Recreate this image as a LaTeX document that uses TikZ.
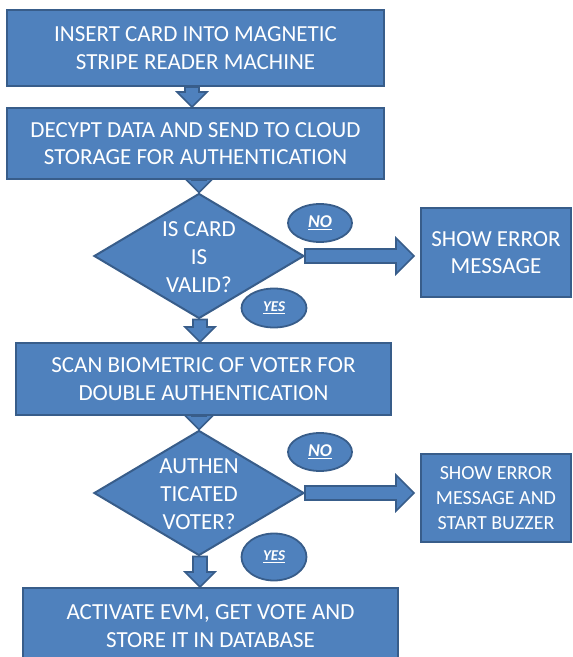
\documentclass[tikz,border=0pt]{standalone}
\usepackage{fontspec}
\setmainfont{Carlito}
\usetikzlibrary{shapes.geometric,calc,backgrounds}

\definecolor{boxblue}{HTML}{4F81BD}
\definecolor{boxedge}{HTML}{385D8A}

\tikzset{
  flowbox/.style={draw=boxedge, fill=boxblue, line width=2pt, text=white,
    align=center, inner sep=0pt, font=\fontsize{23}{27.5}\selectfont},
  decision/.style={diamond, draw=boxedge, fill=boxblue, line width=2pt,
    inner sep=0pt, minimum width=210pt, minimum height=125pt},
  dtext/.style={text=white, align=center, inner sep=0pt,
    font=\fontsize{23}{27.8}\selectfont},
  tag/.style={ellipse, draw=boxedge, fill=boxblue, line width=1.8pt,
    text=white, inner sep=0pt, font=\fontsize{15}{18}\selectfont\bfseries\itshape},
  notag/.style={tag, font=\fontsize{18}{20}\selectfont\bfseries\itshape},
  blockarrow/.style={draw=boxedge, fill=boxblue, line width=1.6pt, line join=miter}
}

% block arrow pointing down: x centre, upper anchor, lower anchor
\newcommand{\flowdown}[3]{%
  \path[blockarrow] let \p1=(#2), \p2=(#3) in
    ({#1pt-7pt},\y1) -- ({#1pt+7pt},\y1) -- ({#1pt+7pt},\y2+15pt)
    -- ({#1pt+15pt},\y2+15pt) -- (#1pt,\y2) -- ({#1pt-15pt},\y2+15pt)
    -- ({#1pt-7pt},\y2+15pt) -- cycle;}

% block arrow pointing right: left anchor, right anchor
\newcommand{\flowright}[2]{%
  \path[blockarrow] let \p1=(#1), \p2=(#2) in
    (\x1,\y1+7pt) -- (\x2-24pt,\y1+7pt) -- (\x2-24pt,\y1+18pt)
    -- (\x2-6pt,\y1) -- (\x2-24pt,\y1-18pt) -- (\x2-24pt,\y1-7pt)
    -- (\x1,\y1-7pt) -- cycle;}

\begin{document}
\begin{tikzpicture}[x=1pt, y=-1pt]
  \useasboundingbox (0,0) rectangle (573,657);
  \clip (0,0) rectangle (573,657);

  % process steps
  \node[flowbox, minimum width=377pt, minimum height=76pt] (insert) at (195.5,48)
    {INSERT CARD INTO MAGNETIC\\STRIPE READER MACHINE};
  \node[flowbox, minimum width=377pt, minimum height=71pt] (decrypt) at (195.5,143.5)
    {DECYPT DATA AND SEND TO CLOUD\\STORAGE FOR AUTHENTICATION};

  \node[decision] (valid) at (199,256) {};
  \node[dtext] (validtxt) at (199,257) {IS CARD\\IS\\VALID?};
  \node[notag, minimum width=64pt, minimum height=38pt] (no1) at (320,223) {\underline{NO}};
  \node[tag, minimum width=65pt, minimum height=39pt] (yes1) at (274,308) {\underline{YES}};

  \node[flowbox, minimum width=150pt, minimum height=89pt] (err1) at (496,252.5)
    {SHOW ERROR\\MESSAGE};

  \node[flowbox, minimum width=375pt, minimum height=72pt] (scan) at (203.5,379)
    {SCAN BIOMETRIC OF VOTER FOR\\DOUBLE AUTHENTICATION};

  \node[decision] (auth) at (199,493) {};
  \node[dtext] (authtxt) at (199,494) {AUTHEN\\TICATED\\VOTER?};
  \node[notag, minimum width=64pt, minimum height=38pt] (no2) at (320,452) {\underline{NO}};
  \node[tag, minimum width=65pt, minimum height=47pt] (yes2) at (274,557) {\underline{YES}};

  \node[flowbox, minimum width=150pt, minimum height=88pt,
        font=\fontsize{20}{25}\selectfont] (err2) at (496,498)
    {SHOW ERROR\\MESSAGE AND\\START BUZZER};

  \node[flowbox, minimum width=375pt, minimum height=76pt] (vote) at (210.5,626)
    {ACTIVATE EVM, GET VOTE AND\\STORE IT IN DATABASE};

  % connectors behind the shapes
  \begin{scope}[on background layer]
    \flowdown{192}{insert.south}{decrypt.north}
    \flowdown{199}{decrypt.south}{valid.north}
    \flowdown{200}{valid.south}{scan.north}
    \flowdown{199}{scan.south}{auth.north}
    \flowdown{200}{auth.south}{vote.north}
    \flowright{valid.east}{err1.west}
    \flowright{auth.east}{err2.west}
  \end{scope}
\end{tikzpicture}
\end{document}
